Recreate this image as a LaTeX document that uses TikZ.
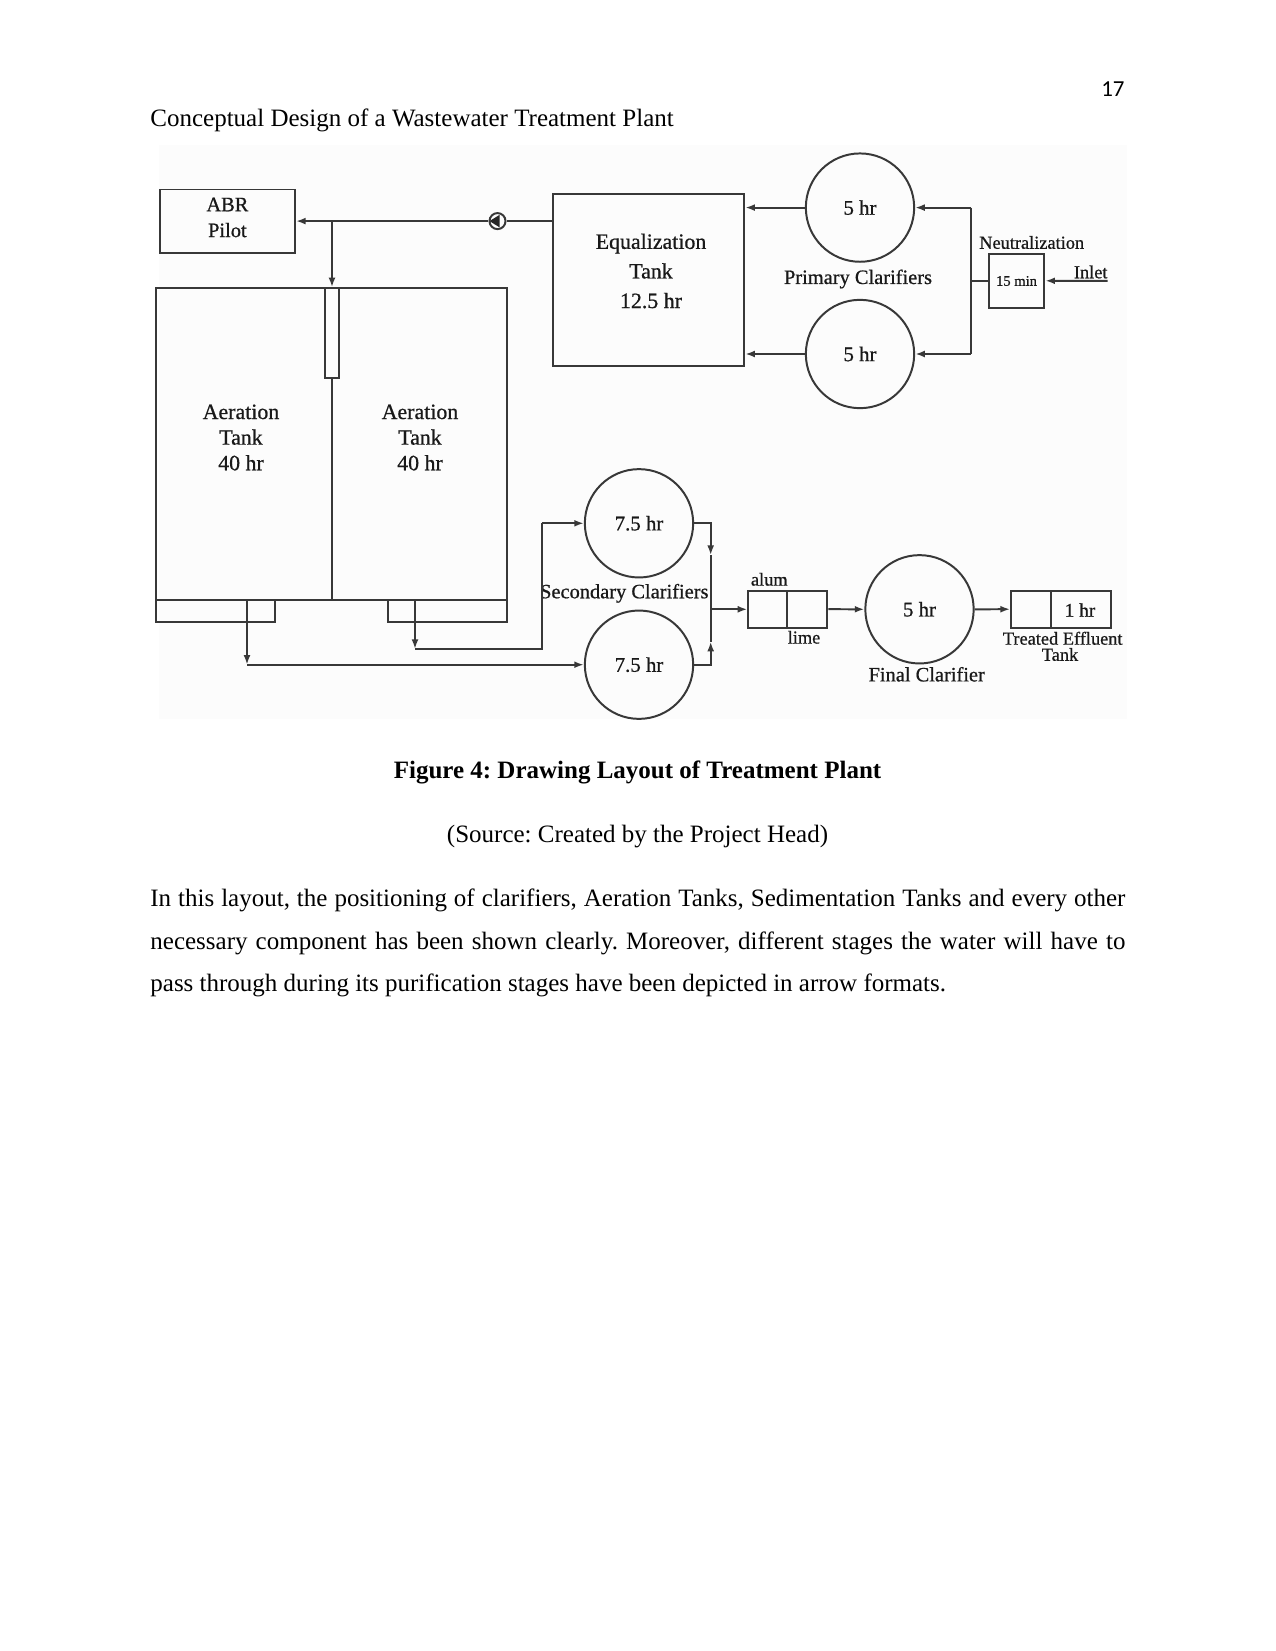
\documentclass[tikz,border=0pt]{standalone}
\usepackage{fontspec}
\setmainfont{Liberation Serif}
\newfontfamily\calibrifont{Carlito}
\newfontface\figfont{Liberation Serif}[FakeBold=0.7]
\usetikzlibrary{arrows.meta,fit,calc}
\frenchspacing
\tikzset{
  ink/.style={draw=black!78, line width=0.95pt},
  arr/.style={ink, -{Latex[length=4.6pt,width=3.3pt]}},
  box/.style={ink, rectangle, inner sep=0pt, align=center, text=black!90},
  tank/.style={circle, ink, minimum size=52pt, inner sep=0pt, text=black!90, font=\figfont\fontsize{10}{12}\selectfont},
  lab/.style={inner sep=0pt, text=black!90},
  bigf/.style={font=\figfont\fontsize{10.5}{14.2}\selectfont},
  aerf/.style={font=\figfont\fontsize{10.5}{12.3}\selectfont},
  midf/.style={font=\figfont\fontsize{9.8}{12.4}\selectfont},
  smallf/.style={font=\figfont\fontsize{8.8}{9}\selectfont},
  body/.style={inner sep=0pt, font=\fontsize{12}{14}\selectfont},
}
\begin{document}
\begin{tikzpicture}[x=0.48pt,y=-0.48pt]
\useasboundingbox (0,0) rectangle (1275,1651);
\fill[white] (0,0) rectangle (1275,1651);
% faint picture background
\fill[black!1] (159,145) rectangle (1127,719);

% header
\node[body, anchor=base west] (hdr) at (150,127) {Conceptual Design of a Wastewater Treatment Plant};
\node[inner sep=0pt, anchor=base east, font=\calibrifont\fontsize{11}{13}\selectfont] (pg) at (1125,96.7) {17};

% ---------- top row ----------
\node[box, fit={(160,189.5) (295,252.7)}] (abr) {};
\node[lab, midf, align=center] (abrt) at (227.4,217.5) {ABR\\Pilot};

\node[box, fit={(552.7,193.7) (744.3,366.4)}] (eq) {};
\node[lab, bigf, align=center] (eqt) at (651,271) {Equalization\\Tank\\12.5 hr};

\node[circle, ink, minimum size=7.7pt, inner sep=0pt] (pump) at (497.5,221.1) {};
\fill[black!85] ($(pump.center)+(-8,0)$) -- ($(pump.center)+(2,-6.2)$) -- ($(pump.center)+(2,6.2)$) -- cycle;

\draw[arr] (pump.west) -- (abr.east);
\draw[ink] (eq.west |- pump.east) -- (pump.east);
\coordinate (br) at (332,221.1);

% aeration tanks
\node[box, fit={(155.8,288.3) (506.6,600.4)}] (aer) {};
\node[box, fit={(325.3,288.3) (338.7,378)}] (inlt) {};
\draw[ink] (inlt.south) -- (inlt.south |- aer.south);
\draw[arr] (br) -- (br |- aer.north);
\node[box, fit={(155.8,600.4) (275,622.3)}] (sl) {};
\node[box, fit={(388.2,600.4) (506.6,622.3)}] (sr) {};
\node[lab, aerf, align=center] (a1t) at (241,437.5) {Aeration\\Tank\\40 hr};
\node[lab, aerf, align=center] (a2t) at (420,437.5) {Aeration\\Tank\\40 hr};

% primary clarifiers
\node[tank] (pc1) at (860,207.6) {5 hr};
\node[tank] (pc2) at (860,354) {5 hr};
\node[lab, midf] (pct) at (858,279) {Primary Clarifiers};
\draw[arr] (pc1.west) -- (eq.east |- pc1.west);
\draw[arr] (pc2.west) -- (eq.east |- pc2.west);
\coordinate (rt) at (970.7,207.6);
\coordinate (rb) at (970.7,354);
\draw[ink] (rt) -- (rb);
\draw[arr] (rt) -- (pc1.east);
\draw[arr] (rb) -- (pc2.east);

% neutralization
\node[box, fit={(988.6,254) (1044.4,307.6)}] (neu) {};
\node[lab, font=\figfont\fontsize{7}{8}\selectfont] (neut) at (1016.5,281) {15 min};
\node[lab, smallf] (neul) at (1031.7,242.5) {Neutralization};
\draw[ink] (neu.west) -- (neu.west -| rt);
\coordinate (inl) at (1107.6,280.8);
\draw[arr] (inl) -- (neu.east);
\node[lab, smallf] (inlett) at (1090.7,272) {Inlet};

% ---------- bottom row ----------
\node[tank] (sc1) at (639,523.3) {7.5 hr};
\node[tank] (sc2) at (639,664.7) {7.5 hr};
\node[lab, midf] (sct) at (624.3,593.3) {Secondary Clarifiers};

\coordinate (l0) at (247,600.4);
\coordinate (l1) at (247,664.7);
\draw[arr] (l0) -- (l1);
\draw[arr] (l1) -- (sc2.west);
\coordinate (r0) at (415,600.4);
\coordinate (r1) at (415,649);
\coordinate (r2) at (541.8,649);
\coordinate (r3) at (541.8,523.3);
\draw[arr] (r0) -- (r1);
\draw[ink] (r1) -- (r2) -- (r3);
\draw[arr] (r3) -- (sc1.west);

\coordinate (jn) at (710.7,609.3);
\coordinate (j1) at (710.7,555);
\coordinate (j2) at (710.7,641.7);
\draw[arr] (sc1.east) -| (j1);
\draw[ink] (j1) -- (jn);
\draw[arr] (sc2.east) -| (j2);
\draw[ink] (j2) -- (jn);

\node[box, fit={(748.3,590.7) (827.3,627.7)}] (chem) {};
\draw[ink] (787.3,590.7) -- (787.3,627.7);
\node[lab, smallf] (alum) at (769.3,579.3) {alum};
\node[lab, smallf] (lime) at (804,637.3) {lime};
\draw[arr] (jn) -- (jn -| chem.west);

\node[tank] (fc) at (919.5,609.3) {5 hr};
\node[lab, midf] (fct) at (926.7,674.3) {Final Clarifier};
\draw[arr] (chem.east) -- (fc.west);

\node[box, fit={(1011,590.7) (1110.7,627.7)}] (eff) {};
\draw[ink] (1050.7,590.7) -- (1050.7,627.7);
\node[lab, font=\figfont\fontsize{9.3}{10}\selectfont] (efft) at (1080,610) {1 hr};
\node[lab, smallf] (effl1) at (1062.7,638.3) {Treated Effluent};
\node[lab, smallf] (effl2) at (1060,654.5) {Tank};
\draw[arr] (fc.east) -- (eff.west);

% ---------- caption & text ----------
\node[body, anchor=base, font=\bfseries\fontsize{12}{14}\selectfont] (cap) at (637.5,778.3) {Figure 4: Drawing Layout of Treatment Plant};
\node[body, anchor=base] (src) at (637.5,842) {(Source: Created by the Project Head)};
\node[body, anchor=base west] (p1) at (150,906) {\hbox to 468pt{In this layout, the positioning of clarifiers, Aeration Tanks, Sedimentation Tanks and every other}};
\node[body, anchor=base west] (p2) at (150,949.3) {\hbox to 468pt{necessary component has been shown clearly. Moreover, different stages the water will have to}};
\node[body, anchor=base west] (p3) at (150,991.7) {pass through during its purification stages have been depicted in arrow formats.};
\end{tikzpicture}
\end{document}
